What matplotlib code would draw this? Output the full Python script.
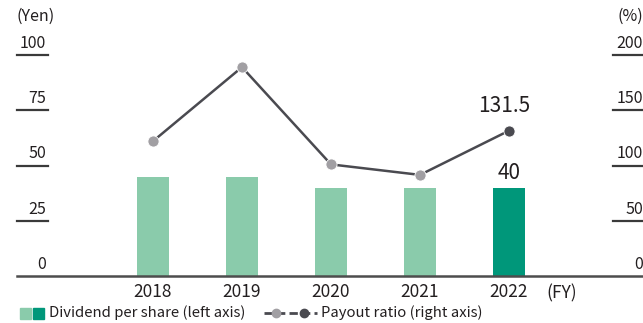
import matplotlib.pyplot as plt
from matplotlib.lines import Line2D
from matplotlib.patches import Rectangle
from matplotlib.transforms import blended_transform_factory, offset_copy

plt.rcParams['font.family'] = ['Noto Sans CJK JP', 'DejaVu Sans']

years = ['2018', '2019', '2020', '2021', '2022']
dividend = [45, 45, 40, 40, 40]            # yen per share
payout = [122, 189, 101, 91.5, 131.5]      # %
yen_ticks = [0, 25, 50, 75, 100]
pct_ticks = [0, 50, 100, 150, 200]

LIGHT = '#8acbab'
DARK = '#00977a'
LINE = '#4a4a50'
DOT = '#a19fa3'
TEXT = '#231f20'
RULE = '#3a3a3a'

W, H = 643, 323
fig = plt.figure(figsize=(W / 100, H / 100), dpi=100)

def px(x, y):
    return x / W, 1 - y / H

ax = fig.add_axes([17 / W, 47 / H, 626 / W, 221 / H])
ax.set_xlim(-1.528, 5.506)
ax.set_ylim(0, 100)
ax2 = ax.twinx()
ax2.set_ylim(0, 200)
for a in (ax, ax2):
    a.set_xticks([])
    a.set_yticks([])
    for s in a.spines.values():
        s.set_visible(False)
    a.patch.set_visible(False)

x = list(range(len(years)))
colors = [LIGHT] * (len(years) - 1) + [DARK]
ax.bar(x, dividend, width=0.36, color=colors, zorder=2)

ax2.plot(x, payout, color=LINE, lw=1.8, zorder=3)
ax2.plot(x[:-1], payout[:-1], 'o', ms=8, color=DOT, mec='white', mew=0.6, zorder=4)
ax2.plot(x[-1:], payout[-1:], 'o', ms=8, color=LINE, mec='white', mew=0.6, zorder=4)

# value labels for the latest year
ax.text(x[-1], dividend[-1] + 1.5, str(dividend[-1]), ha='center', va='bottom',
        fontsize=15, color=TEXT)
ax2.text(x[-1] - 0.05, payout[-1] + 12, str(payout[-1]), ha='center', va='bottom',
         fontsize=15, color=TEXT)

# short tick rules (left: yen, right: %) with labels sitting on top
tl = blended_transform_factory(ax.transAxes, ax.transData)
tr = blended_transform_factory(ax2.transAxes, ax2.transData)
for v in yen_ticks[1:]:
    ax.add_line(Line2D([0, 0.0495], [v, v], color=RULE, lw=1.6,
                       transform=tl, clip_on=False, zorder=10))
for v in pct_ticks[1:]:
    ax2.add_line(Line2D([0.952, 1], [v, v], color=RULE, lw=1.6,
                        transform=tr, clip_on=False, zorder=10))
lab_l = offset_copy(tl, fig=fig, x=0, y=3, units='dots')
lab_r = offset_copy(tr, fig=fig, x=0, y=3, units='dots')
for v in yen_ticks:
    ax.text(0.046, v, str(v), ha='right', va='bottom', fontsize=11.5,
            color=TEXT, transform=lab_l)
for v in pct_ticks:
    ax2.text(1.0, v, str(v), ha='right', va='bottom', fontsize=11.5,
             color=TEXT, transform=lab_r)

# baseline
ax.add_line(Line2D([0, 1], [0, 0], color='#4d4d4d', lw=1.8, transform=tl,
                   clip_on=False, zorder=10))

for i, yr in enumerate(years):
    ax.text(i, -3, yr, ha='center', va='top', fontsize=12.5, color=TEXT)
fig.text(*px(546, 293), '(FY)', ha='left', va='center', fontsize=12.5, color=TEXT)
fig.text(*px(17, 16), '(Yen)', ha='left', va='center', fontsize=11.5, color=TEXT)
fig.text(*px(643, 16), '(%)', ha='right', va='center', fontsize=11.5, color=TEXT)

# legend
ly = 313
for x0, c in ((20, LIGHT), (33, DARK)):
    fig.add_artist(Rectangle(px(x0, ly + 6), 11 / W, 11 / H, color=c))
fig.text(*px(49, ly), 'Dividend per share (left axis)', ha='left', va='center',
         fontsize=10.7, color=TEXT)
fig.add_artist(Line2D([264 / W, 317 / W], [1 - ly / H] * 2, color=LINE, lw=2,
                      dashes=(3, 1.5)))
fig.add_artist(Line2D([276 / W], [1 - ly / H], marker='o', ms=6, color=DOT, lw=0))
fig.add_artist(Line2D([304 / W], [1 - ly / H], marker='o', ms=6, color=LINE, lw=0))
fig.text(*px(321, ly), 'Payout ratio (right axis)', ha='left', va='center',
         fontsize=10.7, color=TEXT)

fig.savefig('out.png', dpi=100)
